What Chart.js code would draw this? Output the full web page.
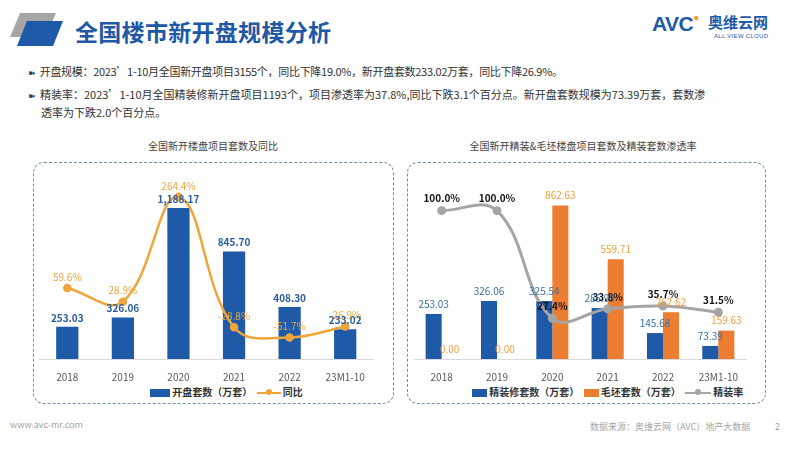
<!DOCTYPE html>
<html>
<head>
<meta charset="utf-8">
<script src="https://cdn.jsdelivr.net/npm/chart.js@4.4.0/dist/chart.umd.min.js"></script>
<style>
  body { margin: 0; width: 800px; height: 450px; overflow: hidden; background: #fff; position: relative;
         font-family: "Noto Sans CJK SC", "Noto Sans", sans-serif; }
  .abs { position: absolute; white-space: nowrap; }
  .title { left: 75px; top: 14px; font-size: 23px; font-weight: bold; color: #2058a6; letter-spacing: 0.3px; }
  .bullet { left: 28px; font-size: 11px; color: #333; line-height: 17px; }
  .bullet b { color: #1f3a66; font-weight: normal; font-size: 9px; margin-right: 4px; }
  .sub { font-size: 10px; color: #444; transform: translateX(-50%); }
  .box { border: 1.5px dashed #6f8fae; border-radius: 11px; }
  .leg { top: 385px; font-size: 10px; font-weight: bold; color: #333; line-height: 14px; }
  .sw { display: inline-block; vertical-align: middle; }
  .foot { font-size: 9px; color: #a6a6a6; }
  canvas { position: absolute; }
</style>
</head>
<body>
<svg class="abs" style="left:0;top:0" width="70" height="50">
  <polygon points="20,13 56,13 46,37 10,37" fill="#a6a6a6"/>
  <polygon points="27,21 63,21 53,46 17,46" fill="#1f5aa8"/>
</svg>
<div class="abs title">全国楼市新开盘规模分析</div>

<div class="abs" style="left:652px;top:12px;font-family:'Liberation Sans',sans-serif;font-size:21px;font-weight:bold;color:#1f5aa8;letter-spacing:-0.5px">AVC<span style="color:#f29b1d;font-size:10px;vertical-align:top">●</span></div>
<div class="abs" style="left:708px;top:11px;font-size:15px;font-weight:bold;color:#1f5aa8">奥维云网</div>
<div class="abs" style="left:714px;top:33px;font-size:6px;color:#1f5aa8;letter-spacing:0.3px;font-family:'Liberation Sans',sans-serif">ALL VIEW CLOUD</div>

<div class="abs bullet" style="top:63px;letter-spacing:-0.3px"><b>➽</b>开盘规模：2023’1-10月全国新开盘项目3155个，同比下降19.0%，新开盘套数233.02万套，同比下降26.9%。</div>
<div class="abs bullet" style="top:86px"><b>➽</b>精装率：2023’1-10月全国精装修新开盘项目1193个，项目渗透率为37.8%,同比下跌3.1个百分点。新开盘套数规模为73.39万套，套数渗<br><span style="padding-left:13px">透率为下跌2.0个百分点。</span></div>

<div class="abs sub" style="left:213px;top:138px">全国新开楼盘项目套数及同比</div>
<div class="abs sub" style="left:583px;top:138px">全国新开精装&amp;毛坯楼盘项目套数及精装套数渗透率</div>

<div class="abs box" style="left:33px;top:162px;width:359px;height:240px"></div>
<div class="abs box" style="left:407px;top:162px;width:357px;height:240px"></div>

<canvas id="leftChart" style="left:33px;top:162px" width="362" height="220"></canvas>
<canvas id="rightChart" style="left:407px;top:162px" width="360" height="220"></canvas>

<div class="abs leg" style="left:150px">
  <span class="sw" style="width:20px;height:8px;background:#1f5aa8"></span> 开盘套数（万套）
  <span class="sw" style="width:24px;height:2px;background:#eea53a;position:relative;margin-left:2px"><span style="position:absolute;left:9px;top:-3px;width:6px;height:6px;border-radius:3px;background:#eea53a"></span></span> 同比
</div>
<div class="abs leg" style="left:472px">
  <span class="sw" style="width:15px;height:8px;background:#1f5aa8"></span> 精装修套数（万套）
  <span class="sw" style="width:15px;height:8px;background:#ed7d31;margin-left:2px"></span> 毛坯套数（万套）
  <span class="sw" style="width:26px;height:2px;background:#a5a5a5;position:relative;margin-left:2px"><span style="position:absolute;left:10px;top:-3px;width:6px;height:6px;border-radius:3px;background:#a5a5a5"></span></span> 精装率
</div>

<div class="abs foot" style="left:10px;top:418px">www.avc-mr.com</div>
<div class="abs foot" style="left:590px;top:420px">数据来源：奥维云网（AVC）地产大数据</div>
<div class="abs foot" style="left:775px;top:420px">2</div>

<script>
// 데이터
const years = ["2018", "2019", "2020", "2021", "2022", "23M1-10"];
const openUnits = [253.03, 326.06, 1188.17, 845.70, 408.30, 233.02];
const openYoy = [59.6, 28.9, 264.4, -28.8, -51.7, -26.9];
const decoUnits = [253.03, 326.06, 325.54, 285.99, 145.68, 73.39];
const roughUnits = [0, 0, 862.63, 559.71, 262.62, 159.63];
const decoRate = [100.0, 100.0, 27.4, 33.8, 35.7, 31.5];

const BLUE = "#1f5aa8";
const ORANGE = "#ed7d31";
const GOLD = "#eea53a";
const GREY = "#a5a5a5";

Chart.defaults.font.family = '"Noto Sans CJK SC", "Noto Sans", sans-serif';

const num2 = (v) => v.toLocaleString("en-US", { minimumFractionDigits: 2, maximumFractionDigits: 2 });
const pct1 = (v) => v.toFixed(1) + "%";

// 막대/점 위에 값 표시
const valueLabels = {
  id: "valueLabels",
  afterDatasetsDraw(chart) {
    const ctx = chart.ctx;
    chart.data.datasets.forEach((ds, i) => {
      const meta = chart.getDatasetMeta(i);
      ctx.save();
      ctx.font = ds.lblFont;
      ctx.fillStyle = ds.lblColor;
      ctx.textAlign = "center";
      ctx.textBaseline = "middle";
      meta.data.forEach((el, j) => {
        ctx.fillText(ds.lblFmt(ds.data[j]), el.x, el.y - ds.lblGap);
      });
      ctx.restore();
    });
  },
};

function xAxis() {
  return {
    grid: { display: false },
    border: { color: "#d9d9d9" },
    ticks: { color: "#595959", font: { size: 10 }, padding: 4 },
    afterFit(s) { s.height = 23; },
  };
}

const fontFamily = '"Noto Sans CJK SC", sans-serif';

new Chart(document.getElementById("leftChart"), {
  data: {
    labels: years,
    datasets: [
      {
        type: "line", label: "同比", data: openYoy, yAxisID: "y2", order: 0,
        borderColor: GOLD, backgroundColor: GOLD, borderWidth: 2.5, tension: 0.4,
        pointRadius: 3, pointBackgroundColor: GOLD,
        lblFont: "10px " + fontFamily, lblColor: GOLD, lblFmt: pct1, lblGap: 11,
      },
      {
        type: "bar", label: "开盘套数（万套）", data: openUnits, yAxisID: "y", order: 1,
        backgroundColor: BLUE, barPercentage: 1, categoryPercentage: 0.4,
        lblFont: "bold 10px " + fontFamily, lblColor: "#2b5d9c", lblFmt: num2, lblGap: 9,
      },
    ],
  },
  options: {
    responsive: false, animation: false,
    layout: { padding: { left: 6, right: 22, top: 19, bottom: 0 } },
    plugins: { legend: { display: false }, tooltip: { enabled: false } },
    scales: {
      x: xAxis(),
      y: { display: false, min: 0, max: 1400 },
      y2: { display: false, min: -100, max: 300 },
    },
  },
  plugins: [valueLabels],
});

new Chart(document.getElementById("rightChart"), {
  data: {
    labels: years,
    datasets: [
      {
        type: "line", label: "精装率", data: decoRate, yAxisID: "y2", order: 0,
        borderColor: GREY, backgroundColor: GREY, borderWidth: 3, tension: 0.4,
        pointRadius: 3, pointBackgroundColor: GREY,
        lblFont: "bold 10px " + fontFamily, lblColor: "#111", lblFmt: pct1, lblGap: 12,
      },
      {
        type: "bar", label: "精装修套数（万套）", data: decoUnits, yAxisID: "y", order: 1,
        backgroundColor: BLUE, barPercentage: 1, categoryPercentage: 0.58,
        lblFont: "10px " + fontFamily, lblColor: "#3a6ea8", lblFmt: num2, lblGap: 10,
      },
      {
        type: "bar", label: "毛坯套数（万套）", data: roughUnits, yAxisID: "y", order: 1,
        backgroundColor: ORANGE, barPercentage: 1, categoryPercentage: 0.58,
        lblFont: "10px " + fontFamily, lblColor: "#f0a040", lblFmt: num2, lblGap: 10,
      },
    ],
  },
  options: {
    responsive: false, animation: false,
    layout: { padding: { left: 5, right: 21, top: 19, bottom: 0 } },
    plugins: { legend: { display: false }, tooltip: { enabled: false } },
    scales: {
      x: xAxis(),
      y: { display: false, min: 0, max: 1000 },
      y2: { display: false, min: 0, max: 120 },
    },
  },
  plugins: [valueLabels],
});
</script>
</body>
</html>
